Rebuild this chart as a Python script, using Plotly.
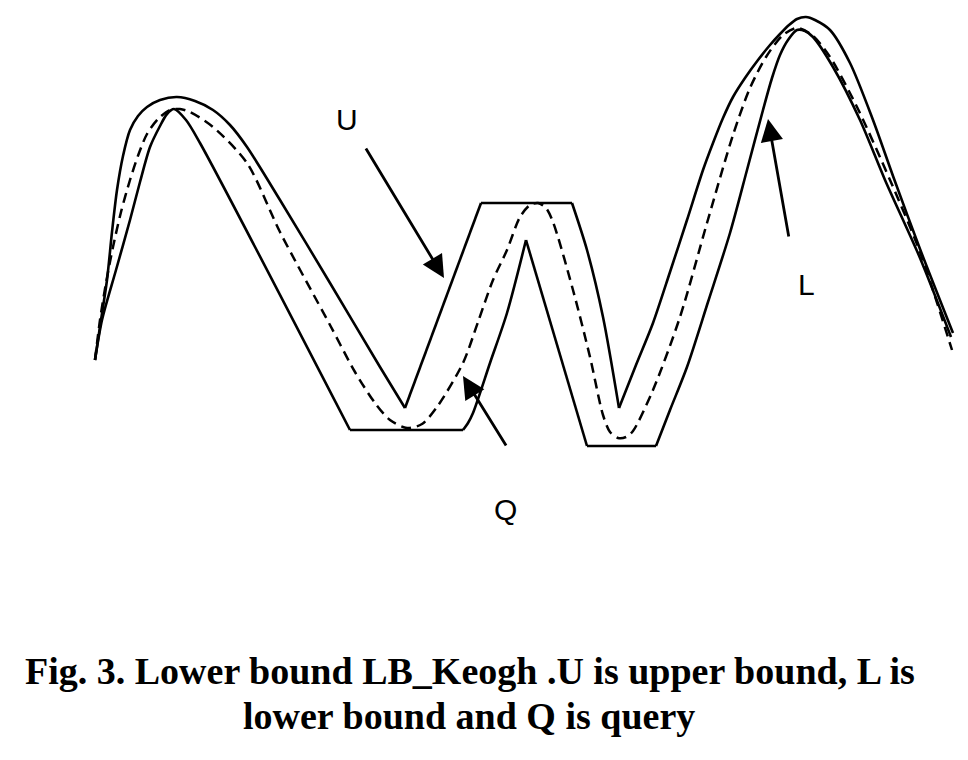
import plotly.graph_objects as go

# ---- data (picture coordinates, y grows downward) ----
U_x = [95, 101, 107, 112, 117, 123, 130, 138, 147, 160, 177, 195, 213, 230, 247, 280, 330, 380, 405,
       481, 572, 587, 603, 619, 636, 653, 670, 687, 703, 713, 723, 733, 745, 758, 770, 780, 789, 797,
       806, 815, 830, 850, 873, 893, 920, 953]
U_y = [360, 320, 280, 232, 190, 156, 130, 116, 107, 100, 97, 101, 110, 125, 147, 200, 283, 367, 408,
       203, 203, 250, 317, 408, 365, 323, 272, 220, 170, 143, 118, 97, 78, 60, 45, 34, 25, 19,
       17, 20, 30, 63, 120, 176, 249, 333]
U_corners = [18, 19, 20, 23]

L_x = [95, 102, 116, 130, 140, 150, 160, 167, 174, 186, 200, 350,
       463, 468, 473, 490, 507, 526, 587, 656, 670, 687, 708, 730, 747, 763, 772, 780, 788, 797,
       805, 813, 833, 860, 885, 920, 951]
L_y = [360, 320, 270, 220, 182, 147, 126, 114, 109, 120, 143, 430,
       430, 423, 413, 363, 313, 240, 446, 446, 410, 367, 302, 233, 170, 110, 78, 55, 40, 30,
       31, 37, 67, 120, 180, 258, 337]
L_corners = [11, 12, 17, 18, 19]

Q_x = [95, 100, 106, 113, 121, 130, 139, 147, 158, 170, 180, 190, 213, 247, 280, 330, 355, 375, 390,
       407, 422, 437, 463, 478, 493, 507, 520, 530, 538, 546, 553, 573, 590, 603, 610, 618, 626, 633,
       653, 680, 707, 733, 750, 766, 783, 797, 812, 830, 857, 890, 920, 952]
Q_y = [360, 320, 283, 247, 212, 180, 153, 134, 119, 110, 109, 112, 127, 163, 232, 325, 372, 403, 420,
       428, 424, 407, 363, 322, 280, 250, 217, 205, 203, 208, 222, 290, 357, 415, 432, 438, 437, 431,
       390, 317, 223, 135, 88, 57, 35, 28, 35, 57, 107, 180, 252, 350]
Q_corners = []

labels = ["U", "Q", "L"]
label_x = [347, 505, 806]
label_y = [119, 509, 284]
arrow_tail_x = [365, 507, 789]
arrow_tail_y = [147, 447, 238]
arrow_tip_x = [444, 463, 768]
arrow_tip_y = [278, 376, 119]

caption_lines = ["Fig. 3. Lower bound LB_Keogh .U is upper bound, L is",
                 "lower bound and Q is query"]
caption_x = [470, 469]
caption_y = [671, 716]


def split(xs, ys, corners):
    """Split a polyline at sharp corners so the spline keeps them sharp."""
    ox, oy = [], []
    start = 0
    for c in corners + [len(xs) - 1]:
        ox += xs[start:c + 1] + [None]
        oy += ys[start:c + 1] + [None]
        start = c
    return ox, oy


fig = go.Figure()
for xs, ys, cs, dash, w in [(U_x, U_y, U_corners, "solid", 2.6),
                            (L_x, L_y, L_corners, "solid", 2.6),
                            (Q_x, Q_y, Q_corners, "10px,6px", 2.5)]:
    sx, sy = split(xs, ys, cs)
    fig.add_trace(go.Scatter(x=sx, y=sy, mode="lines", connectgaps=False,
                             line=dict(color="black", width=w, dash=dash,
                                       shape="spline", smoothing=0.8),
                             hoverinfo="skip", showlegend=False))

for i in range(len(labels)):
    fig.add_annotation(x=arrow_tip_x[i], y=arrow_tip_y[i], ax=arrow_tail_x[i], ay=arrow_tail_y[i],
                       xref="x", yref="y", axref="x", ayref="y", text="", showarrow=True,
                       arrowhead=2, arrowsize=1.6, arrowwidth=2.8, arrowcolor="black", standoff=0)
    fig.add_annotation(x=label_x[i], y=label_y[i], xref="x", yref="y", text=labels[i],
                       showarrow=False, font=dict(family="Liberation Sans", size=30, color="black"),
                       xanchor="center", yanchor="middle")

for i, t in enumerate(caption_lines):
    fig.add_annotation(x=caption_x[i], y=caption_y[i], xref="x", yref="y", text="<b>" + t + "</b>",
                       showarrow=False, font=dict(family="Liberation Serif", size=38, color="black"),
                       xanchor="center", yanchor="middle")

fig.update_layout(width=968, height=760, margin=dict(l=0, r=0, t=0, b=0),
                  paper_bgcolor="white", plot_bgcolor="white",
                  xaxis=dict(range=[0, 968], visible=False, fixedrange=True),
                  yaxis=dict(range=[760, 0], visible=False, fixedrange=True))

fig.write_html("out.html", config={"displayModeBar": False},
               post_script="document.body.style.margin='0px';")
